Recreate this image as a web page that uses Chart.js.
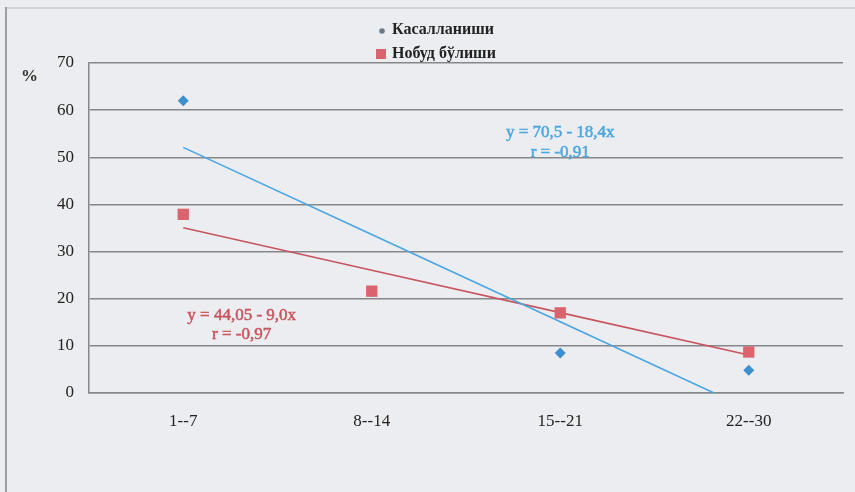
<!DOCTYPE html>
<html>
<head>
<meta charset="utf-8">
<script src="https://cdn.jsdelivr.net/npm/chart.js@4"></script>
<style>
  html, body { margin: 0; padding: 0; background: #ecedf1; }
  #wrap { position: relative; width: 855px; height: 492px; }
</style>
</head>
<body>
<div id="wrap"><canvas id="chart"></canvas></div>
<script>
const categories = ["1--7", "8--14", "15--21", "22--30"];
const yTicks = [0, 10, 20, 30, 40, 50, 60, 70];

// Касалланиши (diamonds) and Нобуд бўлиши (squares), %
const illness = [62, 21.5, 8.5, 4.8];
const loss = [37.9, 21.6, 17, 8.7];

// linear trend lines as printed on the chart
const illnessTrend = [52.1, 33.6, 15.1, -3.4];
const lossTrend = [35.05, 26.05, 17.05, 8.05];

const legendLabels = ["Касалланиши", "Нобуд бўлиши"];
const illnessEq = ["y = 70,5 - 18,4x", "r = -0,91"];
const lossEq = ["y = 44,05 - 9,0x", "r = -0,97"];

const BLUE = "#3d8fd0", BLUE_LINE = "#48a6e2";
const RED = "#d9646d", RED_LINE = "#c9545e";
const SERIF = "'Liberation Serif', 'DejaVu Serif', serif";

// draws text a little heavier, like the scan
function heavyText(ctx, txt, x, y, w) {
  ctx.lineWidth = w;
  ctx.strokeStyle = ctx.fillStyle;
  ctx.strokeText(txt, x, y);
  ctx.fillText(txt, x, y);
}

// frame, legend, % sign, equation labels
const decor = {
  id: "decor",
  beforeDraw(chart) {
    const ctx = chart.ctx;
    ctx.save();
    ctx.strokeStyle = "#d2d3d7";
    ctx.lineWidth = 2;
    ctx.beginPath(); ctx.moveTo(6, 8); ctx.lineTo(855, 8); ctx.stroke();
    ctx.strokeStyle = "#9c9da2";
    ctx.beginPath(); ctx.moveTo(6, 7); ctx.lineTo(6, 492); ctx.stroke();
    ctx.restore();
  },
  afterDraw(chart) {
    const ctx = chart.ctx;
    const x = chart.scales.x, y = chart.scales.y;
    ctx.save();
    // legend
    ctx.font = "bold 16px " + SERIF;
    ctx.textBaseline = "middle";
    ctx.textAlign = "left";
    ctx.fillStyle = "#6b7a88";
    ctx.beginPath(); ctx.arc(382, 31, 2.8, 0, Math.PI * 2); ctx.fill();
    ctx.fillStyle = "#222";
    ctx.fillText(legendLabels[0], 392, 30);
    ctx.fillStyle = RED;
    ctx.fillRect(376, 49, 10, 10);
    ctx.fillStyle = "#222";
    ctx.fillText(legendLabels[1], 392, 54);
    // % sign
    ctx.font = "bold 17px " + SERIF;
    ctx.fillStyle = "#333";
    ctx.fillText("%", 21, 77);
    // equations
    ctx.font = "17px " + SERIF;
    ctx.textAlign = "center";
    ctx.fillStyle = BLUE_LINE;
    heavyText(ctx, illnessEq[0], x.getPixelForValue(2), y.getPixelForValue(55.3), 0.5);
    heavyText(ctx, illnessEq[1], x.getPixelForValue(2), y.getPixelForValue(51), 0.5);
    ctx.fillStyle = RED_LINE;
    heavyText(ctx, lossEq[0], x.getPixelForValue(0.31), y.getPixelForValue(16.5), 0.5);
    heavyText(ctx, lossEq[1], x.getPixelForValue(0.31), y.getPixelForValue(12.3), 0.5);
    ctx.restore();
  }
};

new Chart(document.getElementById("chart"), {
  type: "line",
  data: {
    labels: categories,
    datasets: [
      { label: legendLabels[1], data: loss, showLine: false, order: 0,
        pointStyle: "rect", pointRadius: 8, pointHoverRadius: 8,
        backgroundColor: RED, borderColor: RED, borderWidth: 0 },
      { label: legendLabels[0], data: illness, showLine: false, order: 1,
        pointStyle: "rectRot", pointRadius: 5.5, pointHoverRadius: 5.5,
        backgroundColor: BLUE, borderColor: BLUE, borderWidth: 0 },
      { label: "trend1", data: illnessTrend, order: 2, pointRadius: 0,
        borderColor: BLUE_LINE, borderWidth: 1.6, fill: false },
      { label: "trend2", data: lossTrend, order: 3, pointRadius: 0,
        borderColor: RED_LINE, borderWidth: 1.6, fill: false }
    ]
  },
  options: {
    responsive: true,
    maintainAspectRatio: false,
    animation: false,
    layout: { padding: { top: 63, right: 12, left: 0, bottom: 0 } },
    plugins: { legend: { display: false }, tooltip: { enabled: false } },
    scales: {
      x: {
        offset: true,
        grid: { display: false },
        border: { display: true, color: "#86878b", width: 1.5 },
        ticks: { color: "#222", font: { family: SERIF, size: 17 }, padding: 10 },
        afterFit: s => { s.height = 99; }
      },
      y: {
        min: 0, max: 70,
        afterBuildTicks: s => { s.ticks = yTicks.map(v => ({ value: v })); },
        grid: { color: "#86878b", lineWidth: 1.5, drawTicks: false },
        border: { display: true, color: "#86878b", width: 1.5 },
        ticks: { color: "#222", font: { family: SERIF, size: 17 }, padding: 15 },
        afterFit: s => { s.width = 89; }
      }
    }
  },
  plugins: [decor]
});
</script>
</body>
</html>
